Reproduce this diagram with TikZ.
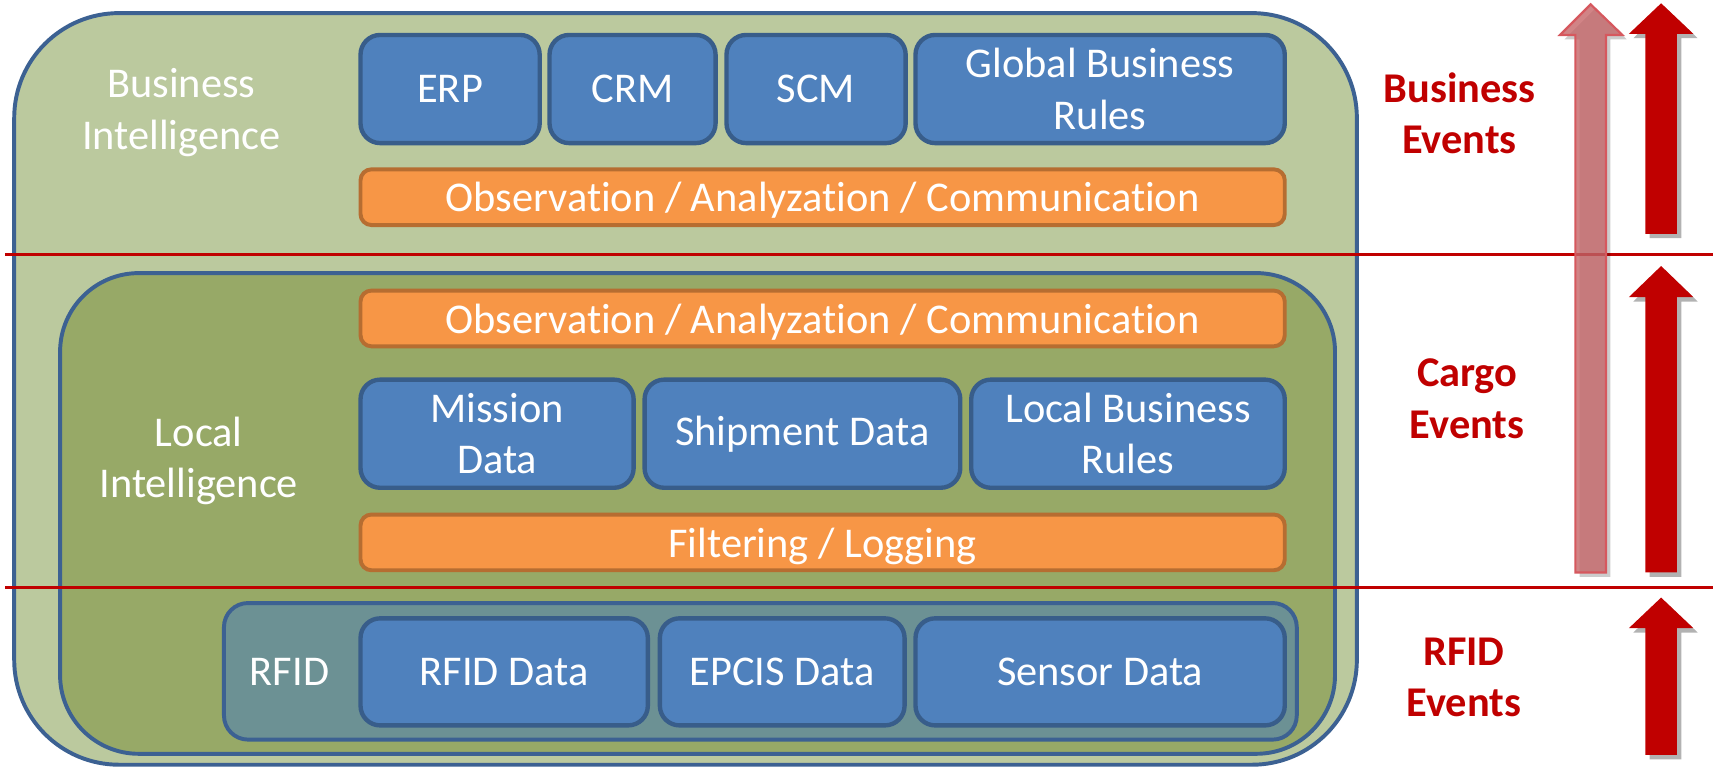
\documentclass[tikz,border=0pt]{standalone}
\usepackage{fontspec}
\setmainfont{Carlito}[Ligatures=NoCommon]
\usetikzlibrary{shadows}

\definecolor{outerfill}{RGB}{187,201,158}
\definecolor{localfill}{RGB}{151,169,103}
\definecolor{rfidfill}{RGB}{108,145,148}
\definecolor{frameline}{RGB}{60,97,146}
\definecolor{boxfill}{RGB}{79,129,189}
\definecolor{boxline}{RGB}{56,93,138}
\definecolor{barfill}{RGB}{247,150,70}
\definecolor{barline}{RGB}{182,109,49}
\definecolor{evred}{RGB}{192,0,0}
\definecolor{ghostfill}{RGB}{197,101,104}
\definecolor{ghostline}{RGB}{214,88,94}

\newcommand{\txt}{\fontsize{19.4}{23.5}\selectfont}

\begin{document}
\begin{tikzpicture}[x=0.5pt,y=-0.5pt,
  every node/.style={font=\txt},
  box/.style={draw=boxline,fill=boxfill,line width=2pt,rounded corners=9pt,text=white,align=center,inner sep=0pt,minimum height=49.5pt},
  bar/.style={draw=barline,fill=barfill,line width=1.8pt,rounded corners=5pt,text=white,inner sep=0pt,minimum width=423pt,minimum height=25.5pt,text depth=0pt},
  layer/.style={text=white,align=center},
  event/.style={text=evred,font=\txt\bfseries,align=center},
  cut/.style={draw=evred,line width=1.5pt},
  up/.style={fill=evred,drop shadow={shadow xshift=2pt,shadow yshift=-2pt,opacity=.3,fill=black}}]
\def\rowA{81.5}
\def\rowB{397}
\def\rowC{615}
\useasboundingbox (0,0) rectangle (1568,704);

% outer and inner frames
\draw[fill=outerfill,draw=frameline,line width=1.8pt,rounded corners=48pt] (13,12) rectangle (1242,700);
\draw[fill=localfill,draw=frameline,line width=1.8pt,rounded corners=36pt] (55,250) rectangle (1222,690);

% event borders
\draw[cut] (5,233) -- (1568,233);
\draw[cut] (5,538) -- (1568,538);

\draw[fill=rfidfill,draw=frameline,line width=1.8pt,rounded corners=11pt] (205,552) rectangle (1187,677);

\path
(166,103) node [layer] (bi) {Business\\Intelligence}
(182,422) node [layer] (li) {Local\\Intelligence}
(265,615) node [layer] (rfid) {RFID}
;

% business row
\path
(412,\rowA) node [box,minimum width=82pt] (erp) {ERP}
(579,\rowA) node [box,minimum width=76pt] (crm) {CRM}
(747,\rowA) node [box,minimum width=82pt] (scm) {SCM}
(1007,\rowA) node [box,minimum width=169pt] (gbr) {Global Business\\Rules}
(753,180.5) node [bar] (oac1) {Observation / Analyzation / Communication}
;

% local row
\path
(753,291.5) node [bar] (oac2) {Observation / Analyzation / Communication}
(455,\rowB) node [box,minimum width=125pt] (mission) {Mission\\Data}
(734.5,\rowB) node [box,minimum width=144.5pt] (shipment) {Shipment Data}
(1032.5,\rowB) node [box,minimum width=143.5pt] (lbr) {Local Business\\Rules}
(753,496.5) node [bar] (filter) {Filtering / Logging}
;

% rfid row
\path
(461.5,\rowC) node [box,minimum width=131.5pt,minimum height=49pt] (rfiddata) {RFID Data}
(716,\rowC) node [box,minimum width=112pt,minimum height=49pt] (epcis) {EPCIS Data}
(1007,\rowC) node [box,minimum width=169pt,minimum height=49pt] (sensor) {Sensor Data}
;

% events
\path
(1336,104) node [event] (bev) {Business\\Events}
(1343,365) node [event] (cev) {Cargo\\Events}
(1340,620) node [event] (rev) {RFID\\Events}
;

% arrows
\draw[fill=ghostfill,fill opacity=.8,draw=ghostline,line width=1pt,drop shadow={shadow xshift=2pt,shadow yshift=-2pt,opacity=.2,fill=black}]
  (1442,524) -- (1442,32) -- (1428,32) -- (1456,4) -- (1485,32) -- (1470,32) -- (1470,524) -- cycle;
\path[up] (1506,214) -- (1506,31) -- (1491,31) -- (1520.5,3) -- (1550,31) -- (1535,31) -- (1535,214) -- cycle;
\path[up] (1506,524) -- (1506,272) -- (1491,272) -- (1520.5,243.5) -- (1550,272) -- (1535,272) -- (1535,524) -- cycle;
\path[up] (1506,691) -- (1506,575) -- (1491,575) -- (1520.5,547) -- (1550,575) -- (1535,575) -- (1535,691) -- cycle;
\end{tikzpicture}
\end{document}
